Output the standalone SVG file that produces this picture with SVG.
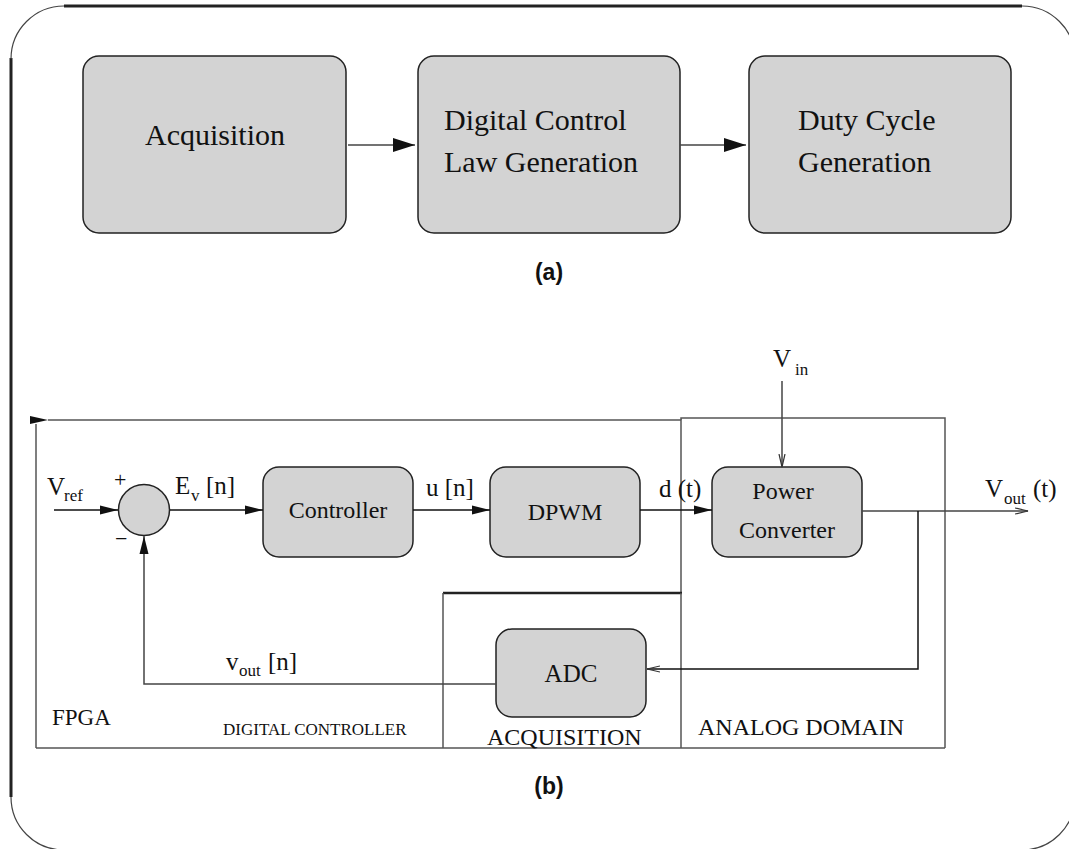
<svg xmlns="http://www.w3.org/2000/svg" width="1069" height="849" viewBox="0 0 1069 849">
  <style>
    .frame-thick { fill: none; stroke: #222; stroke-width: 3; }
    .frame-thin { fill: none; stroke: #444; stroke-width: 1.2; }
    .block { fill: #d3d3d3; stroke: #222; stroke-width: 1.5; }
    .wire { fill: none; stroke: #444; stroke-width: 1.5; }
    .wire-dark { fill: none; stroke: #111; stroke-width: 1.5; }
    .region { fill: none; stroke: #555; stroke-width: 1.5; }
    .region-thick { fill: none; stroke: #222; stroke-width: 2.5; }
    text { font-family: "Liberation Serif", "Times New Roman", serif; fill: #111; }
    .big { font-size: 30px; }
    .lbl { font-size: 25px; }
    .sub { font-size: 17px; }
    .blk { font-size: 24px; }
    .cap { font-family: "Liberation Sans", Arial, sans-serif; font-weight: bold; font-size: 23px; }
  </style>
  <defs>
    <marker id="head-big" markerWidth="22" markerHeight="14" refX="22" refY="7" orient="auto" markerUnits="userSpaceOnUse">
      <polygon points="0,0 22,7 0,14" fill="#111"/>
    </marker>
    <marker id="head" markerWidth="18" markerHeight="10" refX="18" refY="5" orient="auto" markerUnits="userSpaceOnUse">
      <polygon points="0,0.5 18,5 0,9.5" fill="#111"/>
    </marker>
    <marker id="head-open" markerWidth="14" markerHeight="8" refX="13" refY="4" orient="auto" markerUnits="userSpaceOnUse">
      <polyline points="0,1 13,4 0,7" fill="none" stroke="#333" stroke-width="1.2"/>
    </marker>
  </defs>

  <rect width="1069" height="849" fill="#fff"/>

  <!-- page frame with rounded corners -->
  <g id="frame">
    <line class="frame-thick" x1="64" y1="6" x2="1022" y2="6"/>
    <line class="frame-thick" x1="11" y1="58" x2="11" y2="797"/>
    <path class="frame-thin" d="M64 6 A53 53 0 0 0 11 59"/>
    <path class="frame-thin" d="M1022 6 A53 53 0 0 1 1075 59"/>
    <path class="frame-thin" d="M11 797 A53 53 0 0 0 64 850"/>
    <path class="frame-thin" d="M1075 797 A53 53 0 0 1 1022 850"/>
  </g>

  <!-- (a) processing chain -->
  <g id="acquisition">
    <rect class="block" x="83" y="56" width="263" height="177" rx="16"/>
    <text class="big" x="215" y="145" text-anchor="middle">Acquisition</text>
  </g>
  <g id="control-law">
    <rect class="block" x="418" y="56" width="262" height="177" rx="16"/>
    <text class="big" x="444" y="130">Digital Control</text>
    <text class="big" x="444" y="172">Law Generation</text>
  </g>
  <g id="duty-cycle">
    <rect class="block" x="749" y="56" width="262" height="177" rx="16"/>
    <text class="big" x="798" y="130">Duty Cycle</text>
    <text class="big" x="798" y="172">Generation</text>
  </g>
  <g id="chain-connectors">
    <line class="wire" x1="348" y1="145" x2="415" y2="145" marker-end="url(#head-big)"/>
    <line class="wire" x1="680" y1="145" x2="746" y2="145" marker-end="url(#head-big)"/>
  </g>
  <text class="cap" x="549" y="280" text-anchor="middle">(a)</text>

  <!-- (b) closed-loop system -->
  <g id="regions">
    <!-- FPGA / digital controller outline -->
    <path class="region" d="M48 420 H681 V593"/>
    <polygon points="30,416 48,420 30,424" fill="#111"/>
    <line class="region" x1="36" y1="424" x2="36" y2="748"/>
    <line class="region" x1="36" y1="748" x2="945" y2="748"/>
    <!-- acquisition region -->
    <line class="region-thick" x1="443" y1="593" x2="682" y2="593"/>
    <line class="region" x1="443" y1="593" x2="443" y2="748"/>
    <line class="region" x1="681" y1="593" x2="681" y2="748"/>
    <!-- analog domain -->
    <path class="region" d="M681 420 V418 H945 V748"/>
    <text x="52" y="725" style="font-size:23px">FPGA</text>
    <text x="223" y="735" style="font-size:17px">DIGITAL CONTROLLER</text>
    <text x="487" y="745" style="font-size:24px">ACQUISITION</text>
    <text x="698" y="735" style="font-size:24px">ANALOG DOMAIN</text>
  </g>

  <g id="summer">
    <circle cx="144" cy="510" r="25.5" fill="#d3d3d3" stroke="#222" stroke-width="1.5"/>
    <text x="114" y="487" style="font-size:22px">+</text>
    <text x="115" y="546" style="font-size:22px">−</text>
  </g>
  <g id="controller">
    <rect class="block" x="263" y="467" width="150" height="90" rx="16"/>
    <text class="blk" x="338" y="518" text-anchor="middle">Controller</text>
  </g>
  <g id="dpwm">
    <rect class="block" x="490" y="467" width="150" height="90" rx="16"/>
    <text class="blk" x="565" y="520" text-anchor="middle">DPWM</text>
  </g>
  <g id="power-converter">
    <rect class="block" x="712" y="467" width="150" height="90" rx="16"/>
    <text class="blk" x="783" y="499" text-anchor="middle">Power</text>
    <text class="blk" x="787" y="538" text-anchor="middle">Converter</text>
  </g>
  <g id="adc">
    <rect class="block" x="496" y="629" width="150" height="88" rx="16"/>
    <text class="lbl" x="571" y="682" text-anchor="middle">ADC</text>
  </g>

  <g id="connectors">
    <line class="wire-dark" x1="54" y1="510" x2="118" y2="510" marker-end="url(#head)"/>
    <line class="wire-dark" x1="170" y1="510" x2="263" y2="510" marker-end="url(#head)"/>
    <line class="wire-dark" x1="413" y1="510" x2="490" y2="510" marker-end="url(#head)"/>
    <line class="wire-dark" x1="640" y1="510" x2="712" y2="510" marker-end="url(#head)"/>
    <line class="wire" x1="782" y1="381" x2="782" y2="467" marker-end="url(#head-open)"/>
    <line class="wire" x1="862" y1="511" x2="1028" y2="511" marker-end="url(#head-open)"/>
    <path class="wire-dark" d="M918 511 V669 H647" marker-end="url(#head-open)"/>
    <path class="wire" d="M496 684 H144 V536" marker-end="url(#head)"/>
  </g>

  <g id="signal-labels">
    <text class="lbl" x="47" y="495">V</text><text class="sub" x="64" y="501">ref</text>
    <text class="lbl" x="175" y="494">E</text><text class="sub" x="191" y="501">v</text><text class="lbl" x="206" y="494">[n]</text>
    <text class="lbl" x="426" y="496">u [n]</text>
    <text class="lbl" x="659" y="497">d (t)</text>
    <text class="lbl" x="773" y="367">V</text><text class="sub" x="795" y="375">in</text>
    <text class="lbl" x="985" y="497">V</text><text class="sub" x="1004" y="504">out</text><text class="lbl" x="1033" y="497">(t)</text>
    <text class="lbl" x="226" y="670">v</text><text class="sub" x="239" y="676">out</text><text class="lbl" x="268" y="670">[n]</text>
  </g>

  <text class="cap" x="549" y="794" text-anchor="middle">(b)</text>
</svg>
